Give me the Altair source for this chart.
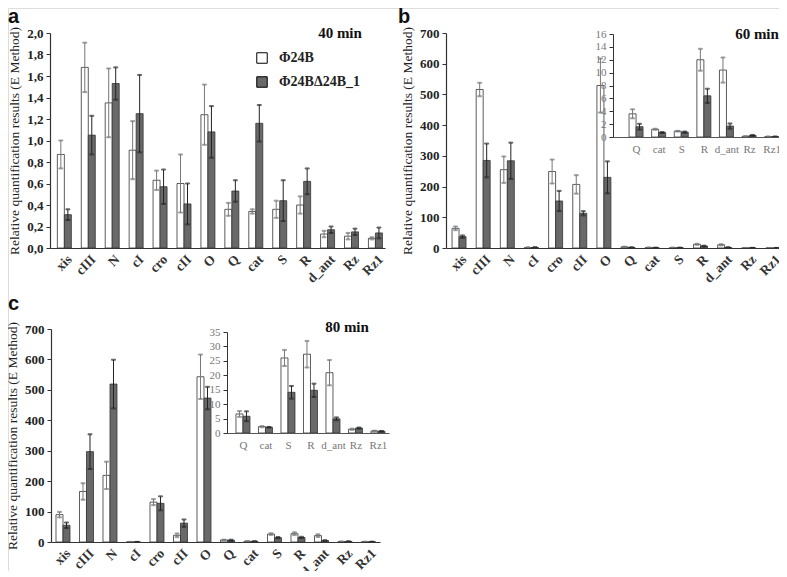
import json
import altair as alt
import pandas as pd

# ---------------- data ----------------
genes = ["xis", "cIII", "N", "cI", "cro", "cII", "O", "Q", "cat", "S", "R", "d_ant", "Rz", "Rz1"]
series = ["Φ24B", "Φ24BΔ24B_1"]

m40_wt = [0.87, 1.68, 1.35, 0.91, 0.63, 0.60, 1.24, 0.36, 0.34, 0.36, 0.40, 0.13, 0.11, 0.09]
m40_wt_err = [0.13, 0.23, 0.32, 0.27, 0.09, 0.27, 0.28, 0.06, 0.02, 0.08, 0.08, 0.03, 0.03, 0.01]
m40_mut = [0.31, 1.05, 1.53, 1.25, 0.57, 0.41, 1.08, 0.53, 1.16, 0.44, 0.62, 0.17, 0.15, 0.14]
m40_mut_err = [0.05, 0.18, 0.15, 0.36, 0.16, 0.19, 0.24, 0.10, 0.17, 0.19, 0.12, 0.03, 0.03, 0.05]

m60_wt = [64, 516, 255, 1.5, 249, 207, 529, 3.6, 1.2, 0.9, 12.0, 10.4, 0.1, 0.05]
m60_wt_err = [6, 22, 43, 0.3, 39, 30, 88, 0.7, 0.08, 0.05, 1.7, 1.95, 0.03, 0.02]
m60_mut = [37, 285, 284, 1.8, 153, 113, 230, 1.6, 0.7, 0.75, 6.4, 1.7, 0.25, 0.05]
m60_mut_err = [4, 55, 59, 0.4, 33, 7, 52, 0.45, 0.08, 0.1, 1.1, 0.4, 0.07, 0.02]

m80_wt = [90, 166, 219, 0.2, 131, 22, 543, 6.6, 2.2, 26.0, 27.3, 20.9, 1.3, 0.7]
m80_wt_err = [9, 27, 45, 0.1, 10, 6, 73, 1.0, 0.2, 2.8, 4.6, 4.4, 0.2, 0.1]
m80_mut = [55, 297, 519, 0.2, 127, 62, 473, 5.8, 2.0, 14.1, 14.8, 4.9, 1.7, 0.6]
m80_mut_err = [9, 57, 80, 0.1, 23, 12, 37, 1.7, 0.1, 2.2, 2.3, 0.5, 0.2, 0.1]

inset_start = 7
inset_genes = genes[inset_start:]

y40_ticks = [0.0, 0.2, 0.4, 0.6, 0.8, 1.0, 1.2, 1.4, 1.6, 1.8, 2.0]
y_main_ticks = [0, 100, 200, 300, 400, 500, 600, 700]
y60_inset_ticks = [0, 2, 4, 6, 8, 10, 12, 14, 16]
y80_inset_ticks = [0, 5, 10, 15, 20, 25, 30, 35]

y_title = "Relative quantification results (E Method)"

W, H = 771, 563
SERIF = "Liberation Serif"
BAR_W = 7
GREY = "#696969"


def make_df(wt, wt_err, mut, mut_err, start, w):
    rows = []
    for i in range(start, len(genes)):
        k = i - start
        for s, vals, errs, xl in ((series[0], wt, wt_err, k - w), (series[1], mut, mut_err, k)):
            v, e = vals[i], errs[i]
            rows.append({"gene": genes[i], "series": s,
                         "value": v, "lo": max(v - e, 0), "hi": v + e,
                         "xl": xl, "xr": xl + w, "xc": xl + w / 2})
    return pd.DataFrame(rows)


legend = alt.Legend(orient="none", legendX=247, legendY=43, title=None,
                    symbolType="square", symbolSize=110, symbolStrokeColor="black",
                    symbolStrokeWidth=1, labelFont=SERIF, labelFontSize=14,
                    labelFontWeight="bold", labelColor="#222", rowPadding=8,
                    labelOffset=10)
color = alt.Color("series:N", scale=alt.Scale(domain=series, range=["#ffffff", GREY]),
                  legend=legend)


def panel(wt, wt_err, mut, mut_err, start, xdom, xrange, ydom, yrange, yticks,
          main=True, ylab_expr=None):
    labels = genes[start:]
    ppu = (xrange[1] - xrange[0]) / (xdom[1] - xdom[0])
    df = make_df(wt, wt_err, mut, mut_err, start, BAR_W / ppu)
    lab_expr = json.dumps(labels) + "[round(datum.value)]"
    xs = alt.Scale(domain=xdom, range=xrange, nice=False, zero=False)
    ys = alt.Scale(domain=ydom, range=yrange, nice=False)
    xa = dict(orient="bottom", values=list(range(len(labels))), offset=yrange[0] - H,
              labelExpr=lab_expr, ticks=False, grid=False, title=None, zindex=1,
              labelFlush=False, labelOverlap=False, labelBound=False)
    if main:
        xa.update(labelAngle=-45, labelFont=SERIF, labelFontSize=13.5,
                  labelFontWeight="bold", labelColor="#333", labelPadding=4,
                  domainColor="#333", domainWidth=1.2)
        yargs = dict(labelFont=SERIF, labelFontSize=13, labelFontWeight="bold",
                     labelColor="#222", title=y_title, titleFont=SERIF, titleFontSize=13.5,
                     titleFontWeight="normal", titleColor="#222", titlePadding=5)
    else:
        xa.update(labelAngle=0, labelFont=SERIF, labelFontSize=11,
                  labelColor="#777", labelPadding=6, domainColor="#555", domainWidth=1)
        yargs = dict(labelFont=SERIF, labelFontSize=11, labelColor="#777", title=None)
    if ylab_expr:
        yargs["labelExpr"] = ylab_expr
    xaxis = alt.Axis(**xa)
    yaxis = alt.Axis(orient="left", offset=-xrange[0], values=yticks, grid=False,
                     tickSize=4, tickColor="#333", domainColor="#333", zindex=1,
                     domainWidth=1.2 if main else 1, labelPadding=3, **yargs)

    base = alt.Chart(df)
    bars = base.mark_bar(stroke="#333", strokeWidth=0.8).encode(
        x=alt.X("xl:Q", scale=xs, axis=xaxis),
        x2="xr:Q",
        y=alt.Y("value:Q", scale=ys, axis=yaxis),
        y2=alt.datum(0),
        color=color,
    )
    err_col = alt.condition(alt.datum.series == series[0], alt.value("#777"), alt.value("#222"))
    rules = base.mark_rule(strokeWidth=1).encode(
        x=alt.X("xc:Q", scale=xs, axis=None),
        y=alt.Y("lo:Q", scale=ys, axis=None),
        y2="hi:Q",
        stroke=err_col,
    )
    caps = base.transform_fold(["lo", "hi"], as_=["end", "ev"]).mark_tick(
        orient="horizontal", size=4, thickness=1).encode(
        x=alt.X("xc:Q", scale=xs, axis=None),
        y=alt.Y("ev:Q", scale=ys, axis=None),
        stroke=err_col,
    )
    return [bars, rules, caps]


comma = "replace(format(datum.value, '.1f'), '.', ',')"

pa = panel(m40_wt, m40_wt_err, m40_mut, m40_mut_err, 0,
           [-0.6, 13.4], [42, 377], [0, 2.0], [240, 25], y40_ticks, True, comma)
pb = panel(m60_wt, m60_wt_err, m60_mut, m60_mut_err, 0,
           [-0.54, 13.5], [438, 777], [0, 700], [240, 25], y_main_ticks, True)
pb_in = panel(m60_wt, m60_wt_err, m60_mut, m60_mut_err, inset_start,
              [-1.02, 6.59], [605, 777], [0, 16], [129, 26], y60_inset_ticks, False)
pc = panel(m80_wt, m80_wt_err, m80_mut, m80_mut_err, 0,
           [-0.51, 13.49], [43, 372], [0, 700], [534, 321], y_main_ticks, True)
pc_in = panel(m80_wt, m80_wt_err, m80_mut, m80_mut_err, inset_start,
              [-0.71, 6.49], [219, 381], [0, 35], [425, 324], y80_inset_ticks, False)


def text(t, x, y, size, font, weight="bold", align="center", baseline="middle"):
    return alt.Chart(pd.DataFrame({"t": [t]})).mark_text(
        font=font, fontSize=size, fontWeight=weight, align=align, baseline=baseline,
        color="#111").encode(text="t:N", x=alt.value(x), y=alt.value(y))


texts = [
    text("40 min", 332, 25, 15, SERIF),
    text("60 min", 749, 26, 15, SERIF),
    text("80 min", 339, 319, 15, SERIF),
    text("a", 0, 15, 20, "Liberation Sans", align="left", baseline="alphabetic"),
    text("b", 390, 15, 20, "Liberation Sans", align="left", baseline="alphabetic"),
    text("c", 0, 302, 20, "Liberation Sans", align="left", baseline="alphabetic"),
]

layers = pa + pb + pb_in + pc + pc_in + texts
chart = alt.layer(*layers).resolve_scale(
    x="independent", y="independent"
).resolve_axis(x="independent", y="independent").properties(
    width=W, height=H, padding=0,
    autosize=alt.AutoSizeParams(type="none"),
).configure_view(stroke=None).configure(background="white")

chart.save("out.html", embed_options={"renderer": "svg", "actions": False})
